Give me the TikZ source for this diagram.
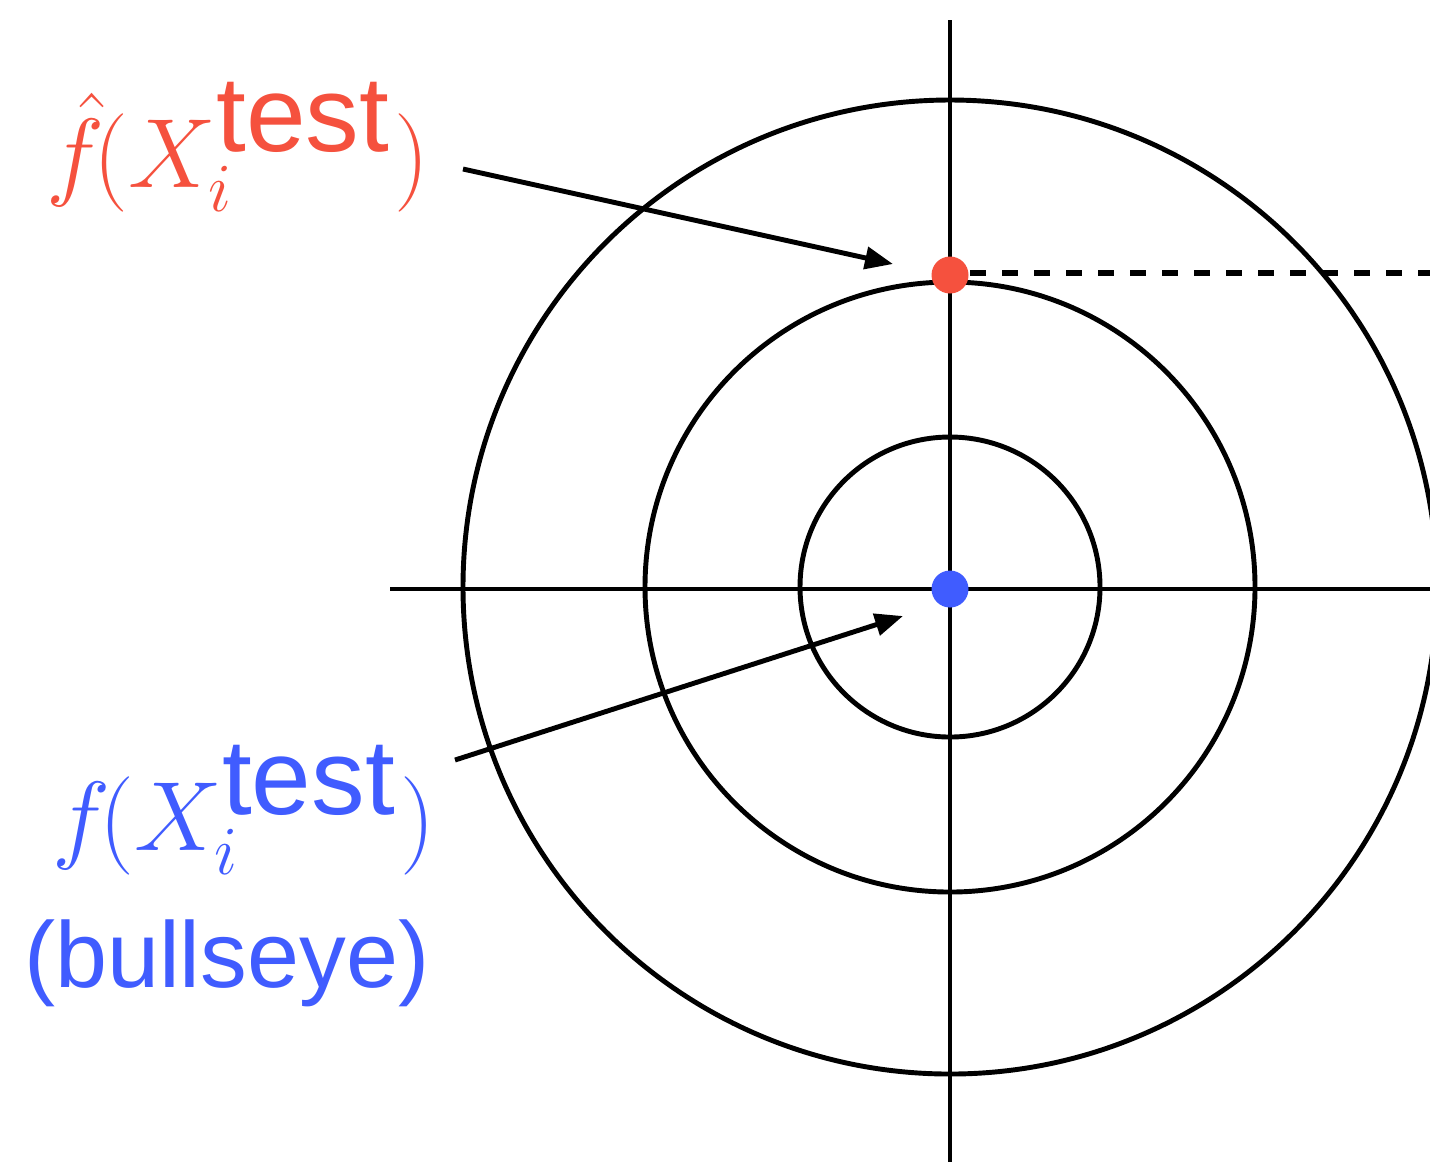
\RequirePackage{fix-cm}
\documentclass[tikz,border=0pt]{standalone}
\usepackage{fontspec}
\setsansfont{Liberation Sans}
\usetikzlibrary{arrows.meta, positioning, calc}
\definecolor{hatred}{RGB}{245,81,62}
\definecolor{trueblue}{RGB}{64,92,255}
\newcommand{\testfont}{\fontsize{30.5}{30.5}\selectfont\sffamily}
\tikzset{
  axis/.style={line width=1.4pt, draw=black},
  ring/.style={line width=1.4pt, draw=black},
  dot/.style={
    circle, inner sep=0pt, minimum size=0.37cm
  },
  label/.style={
    inner sep=0pt, font=\fontsize{28}{34}\selectfont
  },
  arrow/.style={-{Triangle[length=0.28cm, width=0.22cm]}, line width=1.4pt},
  guide/.style={line width=1.9pt, dash pattern=on 0.16cm off 0.16cm},
}
\begin{document}
\begin{tikzpicture}

\useasboundingbox (0,0) rectangle (14.30,-11.62);
\clip (0,0) rectangle (14.30,-11.62);

% --- Target centre and axes ---
\coordinate (ctr) at (9.50,-5.87);
\coordinate (top) at (9.50,-0.20);
\coordinate (bottom) at (9.50,-11.62);
\coordinate (left) at (3.90,-5.89);
\coordinate (right) at (14.30,-5.89);

\draw[axis] (top) -- (bottom);
\draw[axis] (left) -- (right);

% --- Rings ---
\draw[ring] (ctr) circle (4.87cm);
\draw[ring] (ctr) circle (3.05cm);
\draw[ring] (ctr) circle (1.50cm);

% --- Prediction and truth ---
\coordinate (edge) at (14.30,-2.73);
\draw[guide] (9.70,-2.73) -- (edge);
\node[dot, fill=hatred] (hatdot) at (9.50,-2.75) {};
\node[dot, fill=trueblue] (truedot) at (9.50,-5.89) {};

% --- Labels ---
\node[label, text=hatred, anchor=base west] (hatlabel) at (0.46,-1.87)
  {$\hat{f}\mkern-2mu(X_i^{\mbox{\testfont test}\mkern1mu})$};
\node[label, text=trueblue, anchor=base east] (truelabel) at (4.36,-8.50)
  {$f\mkern-2mu(X_i^{\mbox{\testfont test}\mkern1mu})$};
\node[label, text=trueblue, anchor=base east,
  font=\sffamily\fontsize{26.6}{30}\selectfont] (bullseye) at (4.30,-9.87)
  {(bullseye)};

% --- Pointers ---
\coordinate (hattail) at (4.63,-1.69);
\coordinate (hathead) at (8.93,-2.64);
\coordinate (truetail) at (4.55,-7.60);
\coordinate (truehead) at (9.03,-6.16);
\draw[arrow] (hattail) -- (hathead);
\draw[arrow] (truetail) -- (truehead);

\end{tikzpicture}
\end{document}
